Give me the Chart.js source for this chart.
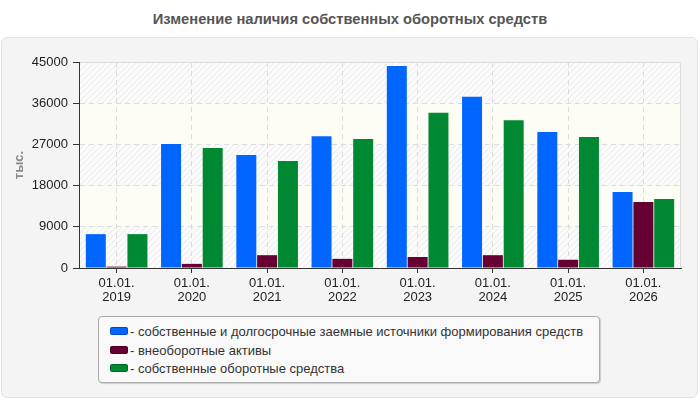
<!DOCTYPE html>
<html>
<head>
<meta charset="utf-8">
<script src="https://cdn.jsdelivr.net/npm/chart.js@4/dist/chart.umd.min.js"></script>
<style>
  body { margin: 0; width: 700px; height: 400px; background: #fff; font-family: "Liberation Sans", Arial, sans-serif; position: relative; overflow: hidden; }
  #title { position: absolute; left: 0; top: 11px; width: 700px; text-align: center; font-size: 14.7px; font-weight: bold; color: #555; }
  #panel { position: absolute; left: 1px; top: 37px; width: 695px; height: 359px; background: #f4f4f4; border: 1px solid #e2e2e2; border-radius: 6px; }
  #chart { position: absolute; left: 0; top: 37px; }
  #legend { position: absolute; left: 98px; top: 316px; width: 500px; height: 65px; background: #f9f9f9; border: 1px solid #aaa; border-radius: 4px; box-shadow: 1px 1px 1px #ccc; }
  .item { position: absolute; left: 11px; font-size: 13px; color: #333; white-space: nowrap; }
  .sw { display: inline-block; width: 16px; height: 6px; border-radius: 2px; margin-right: 2px; vertical-align: 1px; border: 1px solid rgba(0,0,0,0.25); }
</style>
</head>
<body>
<div id="title">Изменение наличия собственных оборотных средств</div>
<div id="panel"></div>
<canvas id="chart" width="700" height="268"></canvas>
<div id="legend"></div>
<script>
// данные
const dates = [['01.01.', '2019'], ['01.01.', '2020'], ['01.01.', '2021'], ['01.01.', '2022'],
               ['01.01.', '2023'], ['01.01.', '2024'], ['01.01.', '2025'], ['01.01.', '2026']];
const sourcesFunds = [7400, 27100, 24700, 28800, 44100, 37400, 29700, 16600];
const nonCurrentAssets = [300, 900, 2800, 2000, 2400, 2800, 1800, 14400];
const ownWorkingCapital = [7400, 26200, 23400, 28200, 33900, 32300, 28600, 15100];
const yTicks = [0, 9000, 18000, 27000, 36000, 45000];

const seriesNames = [
  'собственные и долгосрочные заемные источники формирования средств',
  'внеоборотные активы',
  'собственные оборотные средства'
];
const seriesColors = ['#0066ff', '#660033', '#008833'];
const fontFamily = '"Liberation Sans", Arial, sans-serif';

// фон области графика: полосы со штриховкой
function hatchPattern(ctx) {
  const c = document.createElement('canvas');
  c.width = 6; c.height = 6;
  const p = c.getContext('2d');
  p.fillStyle = '#fbfbfb';
  p.fillRect(0, 0, 6, 6);
  p.strokeStyle = '#e9e9e9';
  p.lineWidth = 1;
  p.beginPath();
  p.moveTo(0, 6); p.lineTo(6, 0);
  p.moveTo(-1, 1); p.lineTo(1, -1);
  p.moveTo(5, 7); p.lineTo(7, 5);
  p.stroke();
  return ctx.createPattern(c, 'repeat');
}

const bandsPlugin = {
  id: 'bands',
  beforeDraw(chart) {
    const ctx = chart.ctx;
    const a = chart.chartArea;
    const y = chart.scales.y;
    const hatch = hatchPattern(ctx);
    ctx.save();
    for (let i = 0; i < yTicks.length - 1; i++) {
      const y0 = y.getPixelForValue(yTicks[i]);
      const y1 = y.getPixelForValue(yTicks[i + 1]);
      ctx.fillStyle = i % 2 === 0 ? hatch : '#fdfdf6';
      ctx.fillRect(a.left, y1, a.right - a.left, y0 - y1);
    }
    ctx.strokeStyle = '#dcdcdc';
    ctx.lineWidth = 1;
    ctx.beginPath();
    ctx.moveTo(a.left, a.top + 0.5);
    ctx.lineTo(a.right - 0.5, a.top + 0.5);
    ctx.lineTo(a.right - 0.5, a.bottom);
    ctx.stroke();
    ctx.restore();
  }
};

new Chart(document.getElementById('chart'), {
  type: 'bar',
  data: {
    labels: dates,
    datasets: [
      { label: seriesNames[0], data: sourcesFunds, backgroundColor: seriesColors[0] },
      { label: seriesNames[1], data: nonCurrentAssets, backgroundColor: seriesColors[1] },
      { label: seriesNames[2], data: ownWorkingCapital, backgroundColor: seriesColors[2] },
    ],
  },
  options: {
    responsive: false,
    animation: false,
    devicePixelRatio: 1,
    categoryPercentage: 0.83,
    barPercentage: 0.96,
    layout: { padding: { top: 25, right: 19, left: 0, bottom: 0 } },
    plugins: { legend: { display: false }, title: { display: false }, tooltip: { enabled: false } },
    scales: {
      x: {
        afterFit(scale) { scale.height = 37; },
        grid: { offset: false, color: '#dddddd', tickColor: '#333', tickLength: 5, tickBorderDash: [] },
        border: { color: '#333', width: 1, dash: [5, 4] },
        ticks: { color: '#222', padding: 3, font: { size: 13, family: fontFamily, lineHeight: 1.1 }, maxRotation: 0 },
      },
      y: {
        min: 0,
        max: 45000,
        afterFit(scale) { scale.width = 79; },
        afterBuildTicks(scale) { scale.ticks = yTicks.map(v => ({ value: v })); },
        grid: { color: '#dddddd', tickColor: '#333', tickLength: 6, tickBorderDash: [] },
        border: { color: '#333', width: 1, dash: [5, 4] },
        ticks: { color: '#222', padding: 5, font: { size: 13, family: fontFamily }, callback: v => String(v) },
        title: { display: true, text: 'тыс.', color: '#888', padding: { top: 12, bottom: 0 }, font: { size: 13, weight: 'bold', family: fontFamily } },
      },
    },
  },
  plugins: [bandsPlugin],
});

// легенда
const legend = document.getElementById('legend');
seriesNames.forEach((name, i) => {
  const div = document.createElement('div');
  div.className = 'item';
  div.style.top = (7 + i * 18.5) + 'px';
  div.innerHTML = '<span class="sw" style="background:' + seriesColors[i] + '"></span>- ' + name;
  legend.appendChild(div);
});
</script>
</body>
</html>
